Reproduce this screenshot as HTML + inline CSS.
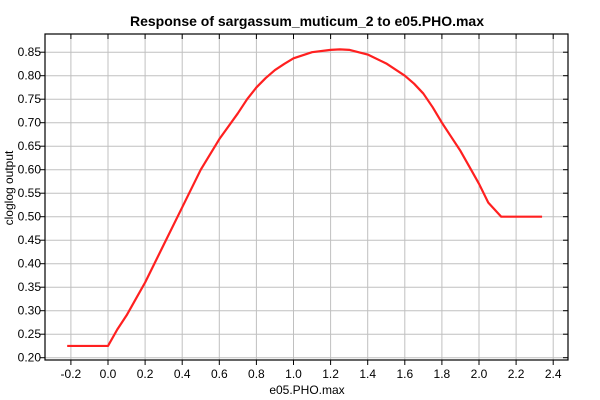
<!DOCTYPE html>
<html><head><meta charset="utf-8"><style>
body{margin:0;background:#fff;}
svg{display:block;font-family:"Liberation Sans",sans-serif;}
</style></head><body>
<svg id="c" width="600" height="400"></svg>
<script>
const xVals=[-0.22,0.0,0.05,0.1,0.15,0.2,0.3,0.4,0.5,0.6,0.7,0.75,0.8,0.85,0.9,0.95,1.0,1.1,1.2,1.25,1.3,1.4,1.5,1.6,1.65,1.7,1.75,1.8,1.85,1.9,1.95,2.0,2.05,2.12,2.34];
const yVals=[0.225,0.225,0.26,0.29,0.325,0.36,0.44,0.52,0.60,0.665,0.72,0.75,0.775,0.795,0.812,0.825,0.837,0.85,0.855,0.856,0.855,0.845,0.826,0.80,0.783,0.762,0.733,0.70,0.67,0.64,0.605,0.57,0.53,0.50,0.50];
const xTicks=[-0.2,0.0,0.2,0.4,0.6,0.8,1.0,1.2,1.4,1.6,1.8,2.0,2.2,2.4];
const yTicks=[0.20,0.25,0.30,0.35,0.40,0.45,0.50,0.55,0.60,0.65,0.70,0.75,0.80,0.85];
const L=45,T=34,R=568,B=360;
const X=v=>108+v*185.5;
const Y=v=>357.7-(v-0.2)*470;
const s=document.getElementById('c');const NS='http://www.w3.org/2000/svg';
function mk(t,a,txt){const e=document.createElementNS(NS,t);for(const k in a)e.setAttribute(k,a[k]);if(txt!==undefined)e.textContent=txt;s.appendChild(e);return e;}
const bg=mk('rect',{x:L,y:T,width:R-L,height:B-T,fill:'#fff'});


xTicks.forEach(v=>{const x=X(v);
const g=mk('line',{x1:x,x2:x,y1:T,y2:B,stroke:'#c0c0c0','stroke-width':1});


mk('line',{x1:x,x2:x,y1:B,y2:B+5,stroke:'#000'});
mk('line',{x1:x,x2:x,y1:T,y2:T+5,stroke:'#000'});
const t=mk('text',{x:x,y:B+18,'font-size':12,'text-anchor':'middle',fill:'#000'},v.toFixed(1));


});
yTicks.forEach(v=>{const y=Y(v);
const g=mk('line',{x1:L,x2:R,y1:y,y2:y,stroke:'#c0c0c0','stroke-width':1});


mk('line',{x1:L-5,x2:L,y1:y,y2:y,stroke:'#000'});
mk('line',{x1:R-5,x2:R,y1:y,y2:y,stroke:'#000'});
const t=mk('text',{x:L-4,y:y+4,'font-size':12,'text-anchor':'end',fill:'#000'},v.toFixed(2));


});
const fr=mk('rect',{x:L,y:T,width:R-L,height:B-T,fill:'none',stroke:'#000','stroke-width':1.2});


const p=mk('polyline',{points:xVals.map((v,i)=>X(v)+','+Y(yVals[i])).join(' '),fill:'none',stroke:'#ff2020','stroke-width':2.2,'stroke-linejoin':'round'});


const ti=mk('text',{x:307,y:26,'font-size':14,'font-weight':'bold','text-anchor':'middle'},'Response of sargassum_muticum_2 to e05.PHO.max');


const xl=mk('text',{x:307,y:394,'font-size':12,'text-anchor':'middle'},'e05.PHO.max');


const yl=mk('text',{x:0,y:0,'font-size':12,'text-anchor':'middle',transform:'translate(13,188) rotate(-90)'},'cloglog output');


</script>
</body></html>
